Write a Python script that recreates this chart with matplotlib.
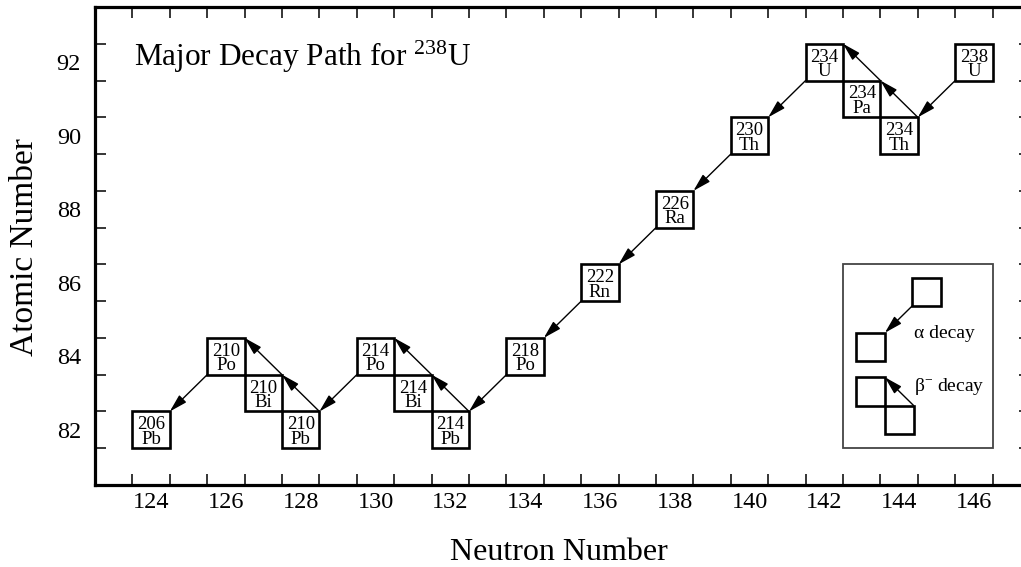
import matplotlib
matplotlib.use("Agg")
import matplotlib.pyplot as plt
from matplotlib.patches import Rectangle, FancyArrowPatch

plt.rcParams['font.family'] = ['Liberation Serif', 'DejaVu Serif']
plt.rcParams['mathtext.fontset'] = 'custom'
plt.rcParams['mathtext.rm'] = 'Liberation Serif'
plt.rcParams['mathtext.it'] = 'Liberation Serif:italic'

# Decay chain of U-238 (in decay order)
symbols = ['U', 'Th', 'Pa', 'U', 'Th', 'Ra', 'Rn', 'Po', 'Pb', 'Bi', 'Po', 'Pb', 'Bi', 'Po', 'Pb']
mass    = [238, 234, 234, 234, 230, 226, 222, 218, 214, 214, 214, 210, 210, 210, 206]
Z       = [92, 90, 91, 92, 90, 88, 86, 84, 82, 83, 84, 82, 83, 84, 82]
N       = [a - z for a, z in zip(mass, Z)]

xticks = [124, 126, 128, 130, 132, 134, 136, 138, 140, 142, 144, 146]
yticks = [82, 84, 86, 88, 90, 92]

W, H = 1021, 567
fig = plt.figure(figsize=(W / 100, H / 100), dpi=100)
ax = fig.add_axes([95 / W, 82 / H, (1030 - 95) / W, (485 - 7) / H])
ax.set_xlim(122.5, 147.5)
ax.set_ylim(80.5, 93.5)

for s in ax.spines.values():
    s.set_linewidth(2.3)

ax.set_xticks(xticks)
ax.set_yticks(yticks)
ax.set_xticks([x + 0.5 for x in range(123, 147)], minor=True)
ax.set_yticks([y + 0.5 for y in range(81, 93)], minor=True)
ax.tick_params(which='major', length=0, labelsize=17.5)
ax.tick_params(axis='x', which='major', pad=5)
ax.tick_params(axis='y', which='major', pad=10)
ax.tick_params(which='minor', direction='in', length=8, width=1.1,
               top=True, right=True, bottom=True, left=True)

box_lw = 1.9
# nuclide boxes
for n, z, a, sym in zip(N, Z, mass, symbols):
    ax.add_patch(Rectangle((n - 0.5, z - 0.5), 1, 1, fill=False, ec='black', lw=box_lw, zorder=3))
    ax.text(n, z - 0.38, f'{a}\n{sym}', ha='center', va='baseline', ma='center',
            fontsize=13.5, linespacing=0.8, zorder=4)

arrow_style = '-|>,head_length=0.9,head_width=0.25'


def draw_arrow(p0, p1):
    ax.add_patch(FancyArrowPatch(p0, p1, arrowstyle=arrow_style, mutation_scale=12,
                                 lw=1.0, color='black', shrinkA=0, shrinkB=0, zorder=5))


# decay arrows
for i in range(len(N) - 1):
    n1, z1, n2, z2 = N[i], Z[i], N[i + 1], Z[i + 1]
    if z2 - z1 == -2:   # alpha
        draw_arrow((n1 - 0.5, z1 - 0.5), (n2 + 0.5, z2 + 0.5))
    else:               # beta-
        draw_arrow((n1 + 0.5, z1 + 0.5), (n2 + 0.5, z2 + 0.5))

# title text
ax.text(123.55, 91.9, 'Major Decay Path for $^{238}$U', fontsize=22.5, ha='left', va='baseline')

# legend
ax.add_patch(Rectangle((142.5, 81.5), 4, 5, fill=False, ec='#444444', lw=1.3, zorder=2))
s = 0.77
ax.add_patch(Rectangle((144.35, 85.37), s, s, fill=False, ec='black', lw=box_lw))
ax.add_patch(Rectangle((142.85, 83.87), s, s, fill=False, ec='black', lw=box_lw))
draw_arrow((144.35, 85.37), (142.85 + s, 83.87 + s))
ax.add_patch(Rectangle((142.85, 82.66), s, s, fill=False, ec='black', lw=box_lw))
ax.add_patch(Rectangle((142.85 + s, 82.66 - s), s, s, fill=False, ec='black', lw=box_lw))
draw_arrow((142.85 + 2 * s, 82.66), (142.85 + s, 82.66 + s))
ax.text(144.4, 84.5, 'α decay', fontsize=14, ha='left', va='baseline')
ax.text(144.4, 83.05, 'β$^{-}$ decay', fontsize=14, ha='left', va='baseline')

fig.text(33 / W, 1 - 247 / H, 'Atomic Number', fontsize=24, rotation=90,
         rotation_mode='anchor', ha='center', va='baseline')
fig.text(559 / W, 1 - 560 / H, 'Neutron Number', fontsize=23, ha='center', va='baseline')

fig.savefig('out.png', dpi=100, facecolor='white')
